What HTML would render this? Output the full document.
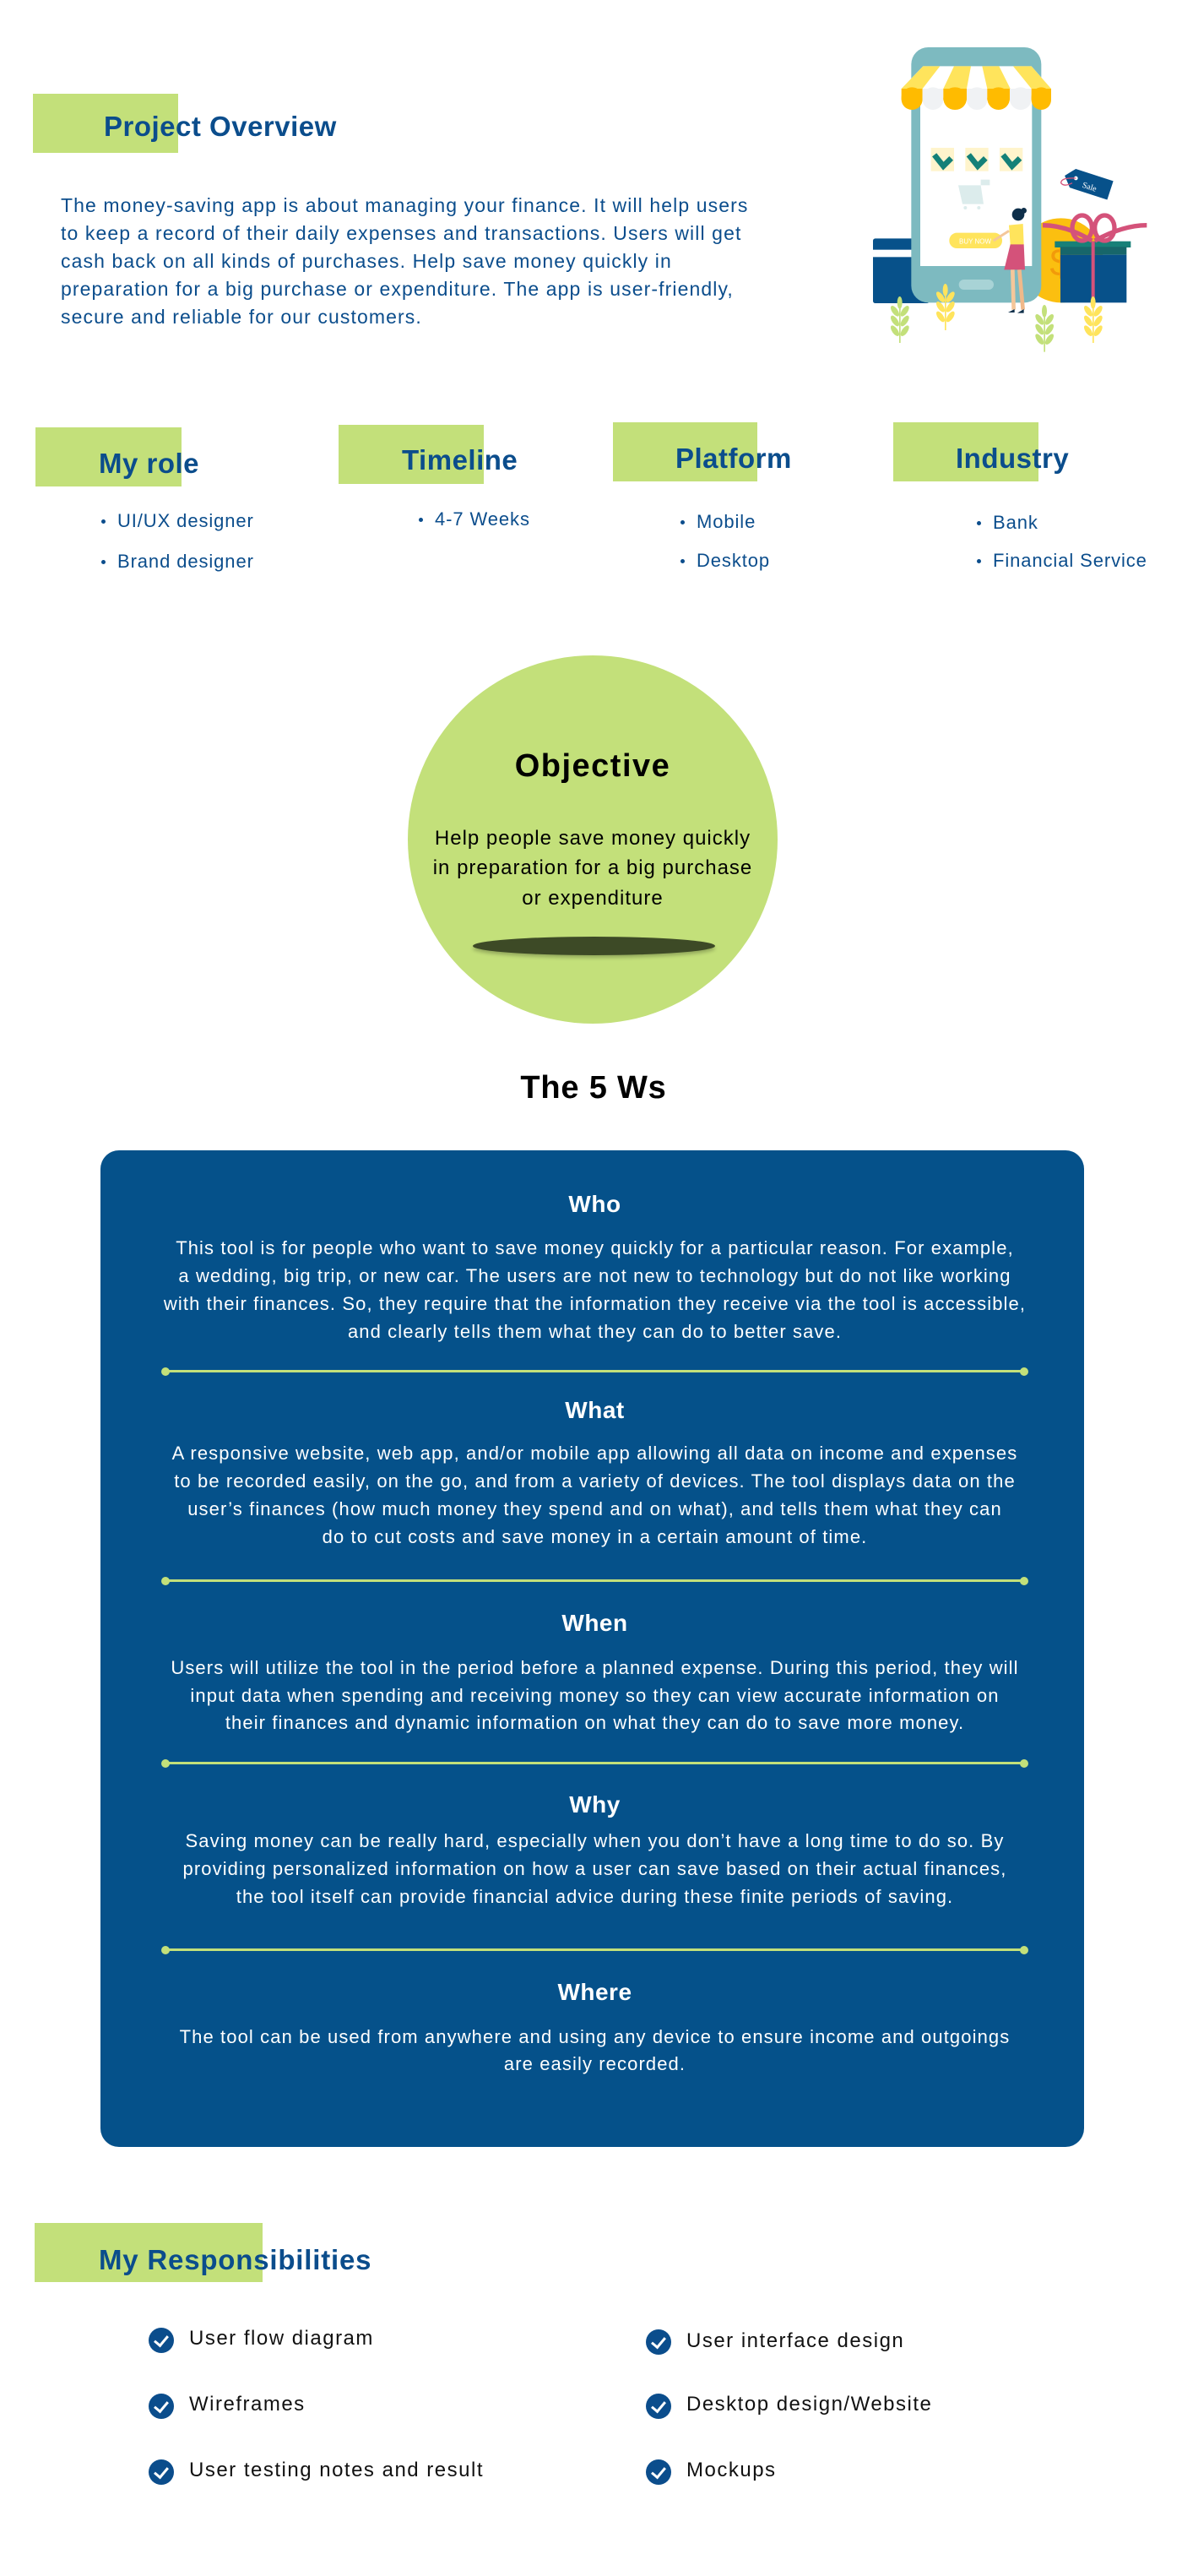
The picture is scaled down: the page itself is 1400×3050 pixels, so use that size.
<!DOCTYPE html>
<html><head><meta charset="utf-8"><style>
*{margin:0;padding:0;box-sizing:border-box}
html,body{width:1400px;height:3050px;background:#fff;overflow:hidden}
body{position:relative;font-family:"Liberation Sans",sans-serif}
.a{position:absolute;white-space:nowrap}
.g{position:absolute;background:#c3e07a}
.h{position:absolute;white-space:nowrap;color:#0b4d8c;font-weight:bold;font-size:33px;line-height:32px;letter-spacing:0.5px}
.p{position:absolute;left:72px;color:#0b4d8c;font-size:23px;letter-spacing:1.1px;line-height:24px;white-space:nowrap}
.b{position:absolute;color:#0b4d8c;font-size:22px;letter-spacing:0.9px;line-height:22px;white-space:nowrap}
.dot{position:absolute;width:5px;height:5px;border-radius:50%;background:#0b4d8c}
.c{position:absolute;left:119px;width:1171px;text-align:center;color:#fff;white-space:nowrap}
.wh{font-weight:bold;font-size:28px;line-height:30px;letter-spacing:0.5px}
.wt{font-size:22px;letter-spacing:1.1px;line-height:22px}
.div{position:absolute;left:196px;width:1017px;height:3px;background:#c3e07a}
.div:before,.div:after{content:"";position:absolute;top:-3.5px;width:10px;height:10px;border-radius:50%;background:#c3e07a}
.div:before{left:-5px}.div:after{right:-5px}
.ck{position:absolute;width:30px;height:30px;border-radius:50%;background:#0b4d8c}
.ck:after{content:"";position:absolute;left:10px;top:6px;width:7px;height:13px;border-right:3px solid #fff;border-bottom:3px solid #fff;transform:rotate(40deg)}
.r{position:absolute;font-size:24px;line-height:24px;color:#111;white-space:nowrap;letter-spacing:1.5px}
</style></head><body>

<div class="g" style="left:39px;top:111px;width:172px;height:70px"></div>
<div class="h" style="left:123px;top:134px">Project Overview</div>

<div class="p" style="top:231px">The money-saving app is about managing your finance. It will help users</div>
<div class="p" style="top:264px">to keep a record of their daily expenses and transactions. Users will get</div>
<div class="p" style="top:297px">cash back on all kinds of purchases. Help save money quickly in</div>
<div class="p" style="top:330px">preparation for a big purchase or expenditure. The app is user-friendly,</div>
<div class="p" style="top:363px">secure and reliable for our customers.</div>

<svg style="position:absolute;left:1030px;top:50px" width="350" height="370" viewBox="0 0 1050 1110">
<rect x="12" y="697" width="200" height="230" rx="8" fill="#07518a"/>
<rect x="12" y="737" width="200" height="26" fill="#fff"/>
<circle cx="680" cy="775" r="150" fill="#fbbf10"/>
<text x="640" y="830" font-size="140" fill="#f29a0a" font-family="Liberation Sans">$</text>
<rect x="148" y="18" width="462" height="907" rx="60" fill="#7dbac0"/>
<rect x="180" y="150" width="397" height="645" fill="#fff"/>
<rect x="317" y="843" width="124" height="36" rx="18" fill="#a8d3d6"/>
<polygon points="190,85 575,85 645,165 113,165" fill="#fff"/>
<polygon points="190,85 250,85 188,165 113,165" fill="#ffe45c"/>
<polygon points="300,85 360,85 345,165 262,165" fill="#ffe45c"/>
<polygon points="400,85 460,85 500,165 418,165" fill="#ffe45c"/>
<polygon points="510,85 575,85 645,165 575,165" fill="#ffe45c"/>
<g>
<rect x="113" y="160" width="75" height="80" rx="37" fill="#ffbb00"/><rect x="113" y="165" width="75" height="40" fill="#ffbb00"/>
<rect x="188" y="160" width="74" height="80" rx="37" fill="#f0f2f4"/><rect x="188" y="165" width="74" height="40" fill="#f0f2f4"/>
<rect x="262" y="160" width="83" height="80" rx="40" fill="#ffbb00"/><rect x="262" y="165" width="83" height="40" fill="#ffbb00"/>
<rect x="345" y="160" width="73" height="80" rx="36" fill="#f0f2f4"/><rect x="345" y="165" width="73" height="40" fill="#f0f2f4"/>
<rect x="418" y="160" width="80" height="80" rx="40" fill="#ffbb00"/><rect x="418" y="165" width="80" height="40" fill="#ffbb00"/>
<rect x="498" y="160" width="77" height="80" rx="38" fill="#f0f2f4"/><rect x="498" y="165" width="77" height="40" fill="#f0f2f4"/>
<rect x="575" y="160" width="70" height="80" rx="35" fill="#ffbb00"/><rect x="575" y="165" width="70" height="40" fill="#ffbb00"/>
</g>
<rect x="218" y="375" width="82" height="83" fill="#fff4cc"/>
<rect x="340" y="375" width="82" height="83" fill="#fff4cc"/>
<rect x="462" y="375" width="82" height="83" fill="#fff4cc"/>
<polyline points="230,400 262,440 290,412" fill="none" stroke="#148078" stroke-width="20"/>
<polyline points="352,400 384,440 412,412" fill="none" stroke="#148078" stroke-width="20"/>
<polyline points="474,400 506,440 534,412" fill="none" stroke="#148078" stroke-width="20"/>
<polygon points="315,508 395,508 405,575 330,575" fill="#dcecec"/>
<rect x="395" y="488" width="32" height="20" fill="#dcecec"/>
<circle cx="340" cy="588" r="6" fill="#dcecec"/><circle cx="388" cy="588" r="6" fill="#dcecec"/>
<rect x="283" y="677" width="188" height="55" rx="27" fill="#ffe45c"/>
<text x="318" y="715" font-size="24" fill="#fff" font-family="Liberation Sans">BUY NOW</text>
<circle cx="528" cy="612" r="22" fill="#0e2f4a"/>
<circle cx="548" cy="598" r="10" fill="#0e2f4a"/>
<path d="M495 650 L545 645 L548 720 L500 720 Z" fill="#ffe45c"/>
<line x1="495" y1="670" x2="440" y2="705" stroke="#f4c79a" stroke-width="9"/>
<path d="M500 718 L548 718 L552 808 L478 808 Z" fill="#d4527a"/>
<line x1="508" y1="808" x2="512" y2="950" stroke="#f4c79a" stroke-width="14"/>
<line x1="532" y1="808" x2="545" y2="950" stroke="#f0b98a" stroke-width="14"/>
<path d="M492 960 L515 948 L515 960 Z M525 962 L548 948 L548 962 Z" fill="#0e2f4a"/>
<rect x="658" y="707" width="270" height="22" fill="#178078"/>
<rect x="678" y="727" width="235" height="28" fill="#17666a"/>
<rect x="678" y="755" width="235" height="170" fill="#07518a"/>
<rect x="788" y="707" width="12" height="218" fill="#d4527a"/>
<ellipse cx="755" cy="660" rx="35" ry="45" fill="none" stroke="#d4527a" stroke-width="16"/>
<ellipse cx="835" cy="660" rx="35" ry="45" fill="none" stroke="#d4527a" stroke-width="16"/>
<path d="M800 705 Q900 650 985 650" fill="none" stroke="#d4527a" stroke-width="16"/>
<path d="M790 705 Q700 650 615 650" fill="none" stroke="#d4527a" stroke-width="16"/>
<g transform="rotate(18 790 500)"><path d="M720 470 L860 470 L860 540 L720 540 L690 505 Z" fill="#07518a"/>
<text x="760" y="525" font-size="30" fill="#fff" font-family="Liberation Serif">Sale</text></g>
<circle cx="733" cy="483" r="7" fill="#fff"/>
<path d="M733 483 Q680 480 680 500 Q690 515 720 500" fill="none" stroke="#d4527a" stroke-width="4"/>
<g fill="#c3e07a"><rect x="105" y="910" width="5" height="158"/>
<ellipse cx="90" cy="955" rx="10" ry="22" transform="rotate(-35 90 955)"/><ellipse cx="125" cy="955" rx="10" ry="22" transform="rotate(35 125 955)"/>
<ellipse cx="90" cy="990" rx="10" ry="22" transform="rotate(-35 90 990)"/><ellipse cx="125" cy="990" rx="10" ry="22" transform="rotate(35 125 990)"/>
<ellipse cx="90" cy="1025" rx="10" ry="22" transform="rotate(-35 90 1025)"/><ellipse cx="125" cy="1025" rx="10" ry="22" transform="rotate(35 125 1025)"/>
<ellipse cx="107" cy="925" rx="9" ry="22"/>
<rect x="619" y="940" width="5" height="160"/>
<ellipse cx="604" cy="985" rx="10" ry="22" transform="rotate(-35 604 985)"/><ellipse cx="639" cy="985" rx="10" ry="22" transform="rotate(35 639 985)"/>
<ellipse cx="604" cy="1020" rx="10" ry="22" transform="rotate(-35 604 1020)"/><ellipse cx="639" cy="1020" rx="10" ry="22" transform="rotate(35 639 1020)"/>
<ellipse cx="604" cy="1055" rx="10" ry="22" transform="rotate(-35 604 1055)"/><ellipse cx="639" cy="1055" rx="10" ry="22" transform="rotate(35 639 1055)"/>
<ellipse cx="621" cy="955" rx="9" ry="22"/></g>
<g fill="#ffe45c"><rect x="267" y="865" width="5" height="158"/>
<ellipse cx="252" cy="905" rx="10" ry="22" transform="rotate(-35 252 905)"/><ellipse cx="287" cy="905" rx="10" ry="22" transform="rotate(35 287 905)"/>
<ellipse cx="252" cy="940" rx="10" ry="22" transform="rotate(-35 252 940)"/><ellipse cx="287" cy="940" rx="10" ry="22" transform="rotate(35 287 940)"/>
<ellipse cx="252" cy="975" rx="10" ry="22" transform="rotate(-35 252 975)"/><ellipse cx="287" cy="975" rx="10" ry="22" transform="rotate(35 287 975)"/>
<ellipse cx="269" cy="880" rx="9" ry="22"/>
<rect x="792" y="910" width="5" height="158"/>
<ellipse cx="777" cy="955" rx="10" ry="22" transform="rotate(-35 777 955)"/><ellipse cx="812" cy="955" rx="10" ry="22" transform="rotate(35 812 955)"/>
<ellipse cx="777" cy="990" rx="10" ry="22" transform="rotate(-35 777 990)"/><ellipse cx="812" cy="990" rx="10" ry="22" transform="rotate(35 812 990)"/>
<ellipse cx="777" cy="1025" rx="10" ry="22" transform="rotate(-35 777 1025)"/><ellipse cx="812" cy="1025" rx="10" ry="22" transform="rotate(35 812 1025)"/>
<ellipse cx="794" cy="925" rx="9" ry="22"/></g>
</svg>

<div class="g" style="left:42px;top:506px;width:173px;height:70px"></div>
<div class="h" style="left:117px;top:533px">My role</div>
<div class="g" style="left:401px;top:503px;width:172px;height:70px"></div>
<div class="h" style="left:476px;top:529px">Timeline</div>
<div class="g" style="left:726px;top:500px;width:171px;height:70px"></div>
<div class="h" style="left:800px;top:527px">Platform</div>
<div class="g" style="left:1058px;top:500px;width:172px;height:70px"></div>
<div class="h" style="left:1132px;top:527px">Industry</div>

<div class="dot" style="left:120px;top:615px"></div><div class="b" style="left:139px;top:606px">UI/UX designer</div>
<div class="dot" style="left:120px;top:663px"></div><div class="b" style="left:139px;top:654px">Brand designer</div>
<div class="dot" style="left:496px;top:613px"></div><div class="b" style="left:515px;top:604px">4-7 Weeks</div>
<div class="dot" style="left:806px;top:616px"></div><div class="b" style="left:825px;top:607px">Mobile</div>
<div class="dot" style="left:806px;top:662px"></div><div class="b" style="left:825px;top:653px">Desktop</div>
<div class="dot" style="left:1157px;top:617px"></div><div class="b" style="left:1176px;top:608px">Bank</div>
<div class="dot" style="left:1157px;top:662px"></div><div class="b" style="left:1176px;top:653px">Financial Service</div>

<div style="position:absolute;left:483px;top:776px;width:438px;height:436px;border-radius:50%;background:#c3e07a"></div>
<div class="a" style="left:482px;width:440px;text-align:center;top:886px;font-size:38px;line-height:42px;font-weight:bold;color:#000;letter-spacing:1.5px">Objective</div>
<div class="a" style="left:482px;width:440px;text-align:center;top:981px;font-size:24px;line-height:24px;color:#000;letter-spacing:1px">Help people save money quickly</div>
<div class="a" style="left:482px;width:440px;text-align:center;top:1016px;font-size:24px;line-height:24px;color:#000;letter-spacing:1px">in preparation for a big purchase</div>
<div class="a" style="left:482px;width:440px;text-align:center;top:1052px;font-size:24px;line-height:24px;color:#000;letter-spacing:1px">or expenditure</div>
<div style="position:absolute;left:560px;top:1109px;width:287px;height:22px;border-radius:50%;background:#3d4a26;box-shadow:0 3px 4px rgba(0,0,0,0.25)"></div>

<div class="a" style="left:0;width:1406px;text-align:center;top:1267px;font-size:38px;line-height:42px;font-weight:bold;color:#000;letter-spacing:0.8px">The 5 Ws</div>

<div style="position:absolute;left:119px;top:1362px;width:1165px;height:1180px;border-radius:22px;background:#05518a"></div>

<div class="c wh" style="top:1411px">Who</div>
<div class="c wt" style="top:1467px">This tool is for people who want to save money quickly for a particular reason. For example,</div>
<div class="c wt" style="top:1500px">a wedding, big trip, or new car. The users are not new to technology but do not like working</div>
<div class="c wt" style="top:1533px">with their finances. So, they require that the information they receive via the tool is accessible,</div>
<div class="c wt" style="top:1566px">and clearly tells them what they can do to better save.</div>
<div class="div" style="top:1622px"></div>

<div class="c wh" style="top:1655px">What</div>
<div class="c wt" style="top:1710px">A responsive website, web app, and/or mobile app allowing all data on income and expenses</div>
<div class="c wt" style="top:1743px">to be recorded easily, on the go, and from a variety of devices. The tool displays data on the</div>
<div class="c wt" style="top:1776px">user’s finances (how much money they spend and on what), and tells them what they can</div>
<div class="c wt" style="top:1809px">do to cut costs and save money in a certain amount of time.</div>
<div class="div" style="top:1870px"></div>

<div class="c wh" style="top:1907px">When</div>
<div class="c wt" style="top:1964px">Users will utilize the tool in the period before a planned expense. During this period, they will</div>
<div class="c wt" style="top:1997px">input data when spending and receiving money so they can view accurate information on</div>
<div class="c wt" style="top:2029px">their finances and dynamic information on what they can do to save more money.</div>
<div class="div" style="top:2086px"></div>

<div class="c wh" style="top:2122px">Why</div>
<div class="c wt" style="top:2169px">Saving money can be really hard, especially when you don’t have a long time to do so. By</div>
<div class="c wt" style="top:2202px">providing personalized information on how a user can save based on their actual finances,</div>
<div class="c wt" style="top:2235px">the tool itself can provide financial advice during these finite periods of saving.</div>
<div class="div" style="top:2307px"></div>

<div class="c wh" style="top:2344px">Where</div>
<div class="c wt" style="top:2401px">The tool can be used from anywhere and using any device to ensure income and outgoings</div>
<div class="c wt" style="top:2433px">are easily recorded.</div>

<div class="g" style="left:41px;top:2632px;width:270px;height:70px"></div>
<div class="h" style="left:117px;top:2660px;letter-spacing:0.8px">My Responsibilities</div>

<div class="ck" style="left:176px;top:2756px"></div><div class="r" style="left:224px;top:2757px">User flow diagram</div>
<div class="ck" style="left:765px;top:2758px"></div><div class="r" style="left:813px;top:2760px">User interface design</div>
<div class="ck" style="left:176px;top:2834px"></div><div class="r" style="left:224px;top:2835px">Wireframes</div>
<div class="ck" style="left:765px;top:2834px"></div><div class="r" style="left:813px;top:2835px">Desktop design/Website</div>
<div class="ck" style="left:176px;top:2912px"></div><div class="r" style="left:224px;top:2913px">User testing notes and result</div>
<div class="ck" style="left:765px;top:2912px"></div><div class="r" style="left:813px;top:2913px">Mockups</div>

</body></html>
